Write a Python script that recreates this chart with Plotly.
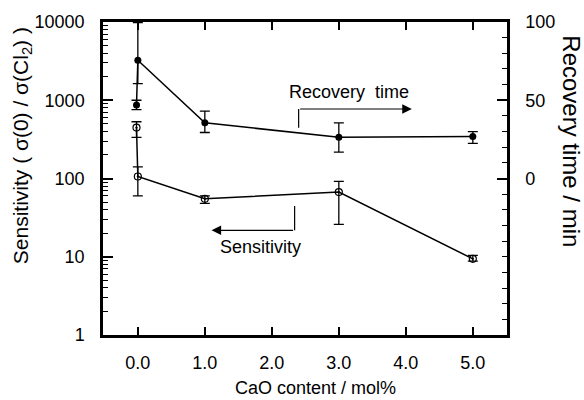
import plotly.graph_objects as go

# ---- data ----
cao_rec = [-0.02, 0.0, 1.0, 3.0, 5.0]
recovery = [47, 75.6, 35.6, 26.3, 26.9]
recovery_err_plus = [3, 24, 7.5, 9.3, 3.1]
recovery_err_minus = [3, 15, 6.2, 9.4, 4.4]

cao_sens = [-0.02, 0.0, 1.0, 3.0, 5.0]
sensitivity = [447, 106, 55, 67, 9.4]
sensitivity_hi = [531, 141, 60, 92, 10.4]
sensitivity_lo = [335, 60, 48, 26, 8.8]

x_ticks = [0, 1, 2, 3, 4, 5]
y_ticks = [1, 10, 100, 1000, 10000]
y2_ticks = [0, 50, 100]

FONT = "Liberation Sans, Arial, sans-serif"

sens_plus = [h - v for h, v in zip(sensitivity_hi, sensitivity)]
sens_minus = [v - l for v, l in zip(sensitivity, sensitivity_lo)]

fig = go.Figure()

fig.add_trace(go.Scatter(
    x=cao_sens, y=sensitivity, mode="lines+markers",
    line=dict(color="black", width=1.5),
    marker=dict(symbol="circle-open-dot", size=7, color="black", line=dict(width=1.2, color="black")),
    error_y=dict(type="data", symmetric=False, array=sens_plus, arrayminus=sens_minus,
                 color="black", thickness=1.3, width=5),
    showlegend=False, yaxis="y", cliponaxis=False,
))

fig.add_trace(go.Scatter(
    x=cao_rec, y=recovery, mode="lines+markers",
    line=dict(color="black", width=1.5),
    marker=dict(symbol="circle", size=7, color="black"),
    error_y=dict(type="data", symmetric=False, array=recovery_err_plus, arrayminus=recovery_err_minus,
                 color="black", thickness=1.3, width=5),
    showlegend=False, yaxis="y2", cliponaxis=False,
))

# arrows (elbow lines + heads), on the linear right axis
fig.add_shape(type="line", xref="x", yref="y2", x0=2.40, y0=32.5, x1=2.40, y1=44.4,
              line=dict(color="black", width=1.2))
fig.add_annotation(xref="x", yref="y2", x=4.09, y=44.4, axref="x", ayref="y2", ax=2.40, ay=44.4,
                   text="", showarrow=True, arrowhead=2, arrowsize=1.6, arrowwidth=1.2, arrowcolor="black")
fig.add_annotation(xref="x", yref="y2", x=3.15, y=55, text="Recovery  time", showarrow=False,
                   xanchor="center", yanchor="middle",
                   font=dict(family=FONT, size=18, color="black"))

fig.add_shape(type="line", xref="x", yref="y2", x0=2.34, y0=-17.5, x1=2.34, y1=-33.1,
              line=dict(color="black", width=1.2))
fig.add_annotation(xref="x", yref="y2", x=1.10, y=-33.1, axref="x", ayref="y2", ax=2.34, ay=-33.1,
                   text="", showarrow=True, arrowhead=2, arrowsize=1.6, arrowwidth=1.2, arrowcolor="black")
fig.add_annotation(xref="x", yref="y2", x=1.83, y=-43.8, text="Sensitivity", showarrow=False,
                   xanchor="center", yanchor="middle",
                   font=dict(family=FONT, size=18, color="black"))

# axis titles
fig.add_annotation(xref="paper", yref="paper", x=(315 - 103) / 404, y=(335 - 389) / 320,
                   text="CaO content / mol%", showarrow=False, xanchor="center", yanchor="middle",
                   font=dict(family=FONT, size=18, color="black"))
fig.add_annotation(xref="paper", yref="paper", x=(22 - 103) / 404, y=(335 - 142) / 320,
                   text="Sensitivity ( σ(0) / σ(Cl<sub>2</sub>) )", showarrow=False, textangle=-90,
                   xanchor="center", yanchor="middle",
                   font=dict(family=FONT, size=21, color="black"))
fig.add_annotation(xref="paper", yref="paper", x=(572 - 103) / 404, y=(335 - 137) / 320,
                   text="Recovery time / min", showarrow=False, textangle=90,
                   xanchor="center", yanchor="middle",
                   font=dict(family=FONT, size=24, color="black"))

fig.update_layout(
    width=584, height=400,
    margin=dict(l=103, r=77, t=15, b=65),
    paper_bgcolor="white", plot_bgcolor="white",
    font=dict(family=FONT, size=18, color="black"),
    xaxis=dict(range=[-0.52, 5.51], tickvals=x_ticks, tickformat=".1f",
               ticks="inside", ticklen=8, tickwidth=1.5, tickcolor="black",
               showline=True, linewidth=2.5, linecolor="black", mirror="ticks",
               showgrid=False, zeroline=False, ticklabelstandoff=10),
    yaxis=dict(type="log", range=[0, 4], tickmode="array", tickvals=y_ticks,
               ticktext=[str(v) for v in y_ticks],
               ticks="inside", ticklen=10, tickwidth=1.5, tickcolor="black",
               minor=dict(tickmode="array",
                          tickvals=[m * 10 ** d for d in range(4) for m in range(2, 10)],
                          ticks="inside", ticklen=5, tickwidth=1, tickcolor="black", showgrid=False),
               showline=True, linewidth=2.5, linecolor="black",
               showgrid=False, zeroline=False, ticklabelstandoff=12),
    yaxis2=dict(overlaying="y", side="right", range=[-100, 100], tickvals=y2_ticks,
                ticks="inside", ticklen=10, tickwidth=1.5, tickcolor="black",
                minor=dict(tickmode="linear", tick0=0, dtick=10, ticks="inside", ticklen=5,
                           tickwidth=1, tickcolor="black", showgrid=False),
                showline=True, linewidth=2.5, linecolor="black",
                showgrid=False, zeroline=False, ticklabelstandoff=12),
)

fig.write_html("out.html")
